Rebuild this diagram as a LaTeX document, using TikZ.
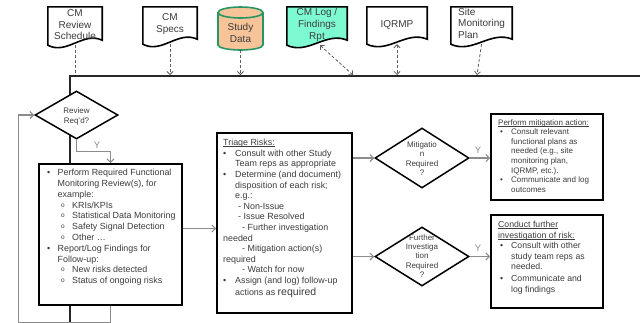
\documentclass[tikz,border=0pt]{standalone}
\usepackage{fontspec}
\setmainfont{Liberation Sans}
\usetikzlibrary{shapes.geometric,arrows.meta,calc}

\definecolor{ink}{RGB}{60,60,60}
\definecolor{wiregray}{RGB}{140,140,140}
\definecolor{dashgray}{RGB}{95,95,95}
\definecolor{peach}{RGB}{246,196,152}
\definecolor{cylgreen}{RGB}{40,150,100}
\definecolor{aqua}{RGB}{125,250,210}

% bullet in a box of given width, sub-bullet "o"
\newcommand{\bul}[1]{\makebox[#1][l]{\textbullet}}
\newcommand{\sbl}{\hspace*{14pt}\makebox[11pt][l]{\raisebox{0.2ex}{\fontsize{6.5}{6.5}\selectfont o}}}
% tight underline just below the baseline
\newcommand{\ul}[1]{\setbox0\hbox{#1}\rlap{\rule[-1.3pt]{\wd0}{0.5pt}}\box0}

% document symbol with a wavy lower edge, drawn around a named node
\newcommand{\docshape}[2]{%
  \draw[docline, fill=#2] (#1.north west) -- (#1.north east)
    -- ($(#1.south east)+(0,-7)$)
    .. controls ($(#1.south west)!0.65!(#1.south east)+(0,-16)$)
            and ($(#1.south west)!0.35!(#1.south east)+(0,8)$)
    .. ($(#1.south west)+(0,-2)$) -- cycle;}

\tikzset{
  frame/.style={draw=black!85, line width=1.6pt, inner sep=0pt},
  stepbox/.style={draw=black, line width=1.8pt, fill=white, inner sep=0pt},
  decision/.style={diamond, draw=black, line width=1.5pt, fill=white, inner sep=0pt},
  docbox/.style={inner sep=0pt},
  docline/.style={draw=black, line width=1.6pt},
  txt/.style={text=ink, inner sep=0pt},
  docfont/.style={font=\fontsize{10}{11.5}\selectfont},
  wire/.style={draw=wiregray, line width=1.1pt, -{Straight Barb[length=3.5pt,width=7pt]}},
  feed/.style={draw=dashgray, line width=0.8pt, dash pattern=on 3pt off 2pt},
  feedtip/.style={-{Straight Barb[length=3pt,width=6pt]}},
  feedboth/.style={{Straight Barb[length=3pt,width=6pt]}-{Straight Barb[length=3pt,width=6pt]}},
  ylab/.style={text=wiregray, inner sep=0pt, font=\fontsize{9.5}{9.5}\selectfont},
}

\begin{document}
\begin{tikzpicture}[x=1pt, y=-1pt]
\useasboundingbox (0,0) rectangle (640,322);
\fill[white] (0,0) rectangle (640,322);

% outer stage frame
\node[frame, minimum width=570.5pt, minimum height=255pt, anchor=north west] (stage) at (69,75) {};

% input / output documents
\node[docbox, minimum width=54pt, minimum height=40pt] (sched) at (75,27) {};
\docshape{sched}{white}
\node[txt, docfont, align=center] (schedtx) at (75,25) {CM\\Review\\Schedule};

\node[docbox, minimum width=54pt, minimum height=39pt] (specs) at (170,26.5) {};
\docshape{specs}{white}
\node[txt, docfont, align=center, font=\fontsize{10}{12.5}\selectfont] (specstx) at (170,24) {CM\\Specs};

\node[docbox, minimum width=45pt, minimum height=43pt] (study) at (240.5,28.5) {};
\draw[cylgreen, line width=1.6pt, fill=peach]
  (218,12.5) -- (218,45) arc[start angle=180, end angle=0, x radius=22.5, y radius=5]
  -- (263,12.5) arc[start angle=0, end angle=-180, x radius=22.5, y radius=5.5] -- cycle;
\draw[cylgreen, line width=1.6pt] (218,12.5) arc[start angle=180, end angle=0, x radius=22.5, y radius=5.5];
\node[txt, docfont, align=center, font=\fontsize{10}{12.5}\selectfont] (studytx) at (240.5,33) {Study\\Data};

\node[docbox, minimum width=60pt, minimum height=40pt] (log) at (317,27) {};
\docshape{log}{aqua}
\node[txt, docfont, align=center, font=\fontsize{10}{12}\selectfont] (logtx) at (317,24.5) {CM Log /\\Findings\\Rpt};

\node[docbox, minimum width=60pt, minimum height=39pt] (iqrmp) at (397,26.5) {};
\docshape{iqrmp}{white}
\node[txt, docfont] (iqrmptx) at (397,24.5) {IQRMP};

\node[docbox, minimum width=61pt, minimum height=39pt] (site) at (481.5,26.5) {};
\docshape{site}{white}
\node[txt, docfont, align=left, anchor=west] (sitetx) at (458,23) {Site\\Monitoring\\Plan};

% feeds into the stage
\draw[feed] ([yshift=2pt]sched.south) -- (sched.south |- stage.north);
\draw[feed, feedtip] ([yshift=2pt]specs.south) -- (specs.south |- stage.north);
\draw[feed, feedtip] (study.south) -- (study.south |- stage.north);
\draw[feed, feedboth] ([xshift=3pt,yshift=2pt]log.south) -- ([xshift=284pt]stage.north west);
\draw[feed, feedboth] ([yshift=2pt]iqrmp.south) -- (iqrmp.south |- stage.north);
\draw[feed, feedtip] ([yshift=2pt]site.south) -- ([xshift=408pt]stage.north west);

% review decision
\node[decision, minimum width=83pt, minimum height=48pt] (rev) at (76.5,115) {};
\node[txt, align=center, font=\fontsize{8}{10}\selectfont] (revtx) at (76.5,116) {Review\\Req’d?};

% functional review step
\node[stepbox, minimum width=143pt, minimum height=141pt] (perf) at (110.5,234.5) {};
\node[txt, anchor=north west, align=left, font=\fontsize{8.9}{10.8}\selectfont] (perftx) at (47,169) {%
\bul{10.5pt}Perform Required Functional\\
\hspace*{10.5pt}Monitoring Review(s), for\\
\hspace*{10.5pt}example:\\
\sbl KRIs/KPIs\\
\sbl Statistical Data Monitoring\\
\sbl Safety Signal Detection\\
\sbl Other …\\
\bul{10.5pt}Report/Log Findings for\\
\hspace*{10.5pt}Follow-up:\\
\sbl New risks detected\\
\sbl Status of ongoing risks};

% triage step
\node[stepbox, minimum width=135pt, minimum height=180pt] (tri) at (284.5,223) {};
\node[txt, anchor=north west, align=left, font=\fontsize{8.9}{10.6}\selectfont] (tritx) at (223,139) {%
\ul{Triage Risks:}\\
\bul{12pt}Consult with other Study\\
\hspace*{12pt}Team reps as appropriate\\
\bul{12pt}Determine (and document)\\
\hspace*{12pt}disposition of each risk;\\
\hspace*{12pt}e.g.:\\
\hspace*{15pt}- Non-Issue\\
\hspace*{15pt}- Issue Resolved\\
\hspace*{19pt}- Further investigation\\
needed\\
\hspace*{19pt}- Mitigation action(s)\\
required\\
\hspace*{19pt}- Watch for now\\
\bul{12pt}Assign (and log) follow-up\\[1.5pt]
\hspace*{12pt}actions as {\fontsize{10.5}{11}\selectfont required}};

% mitigation decision and action
\node[decision, minimum width=94pt, minimum height=60pt] (mit) at (422,158) {};
\node[txt, align=center, font=\fontsize{8}{9.6}\selectfont] (mittx) at (422,158.5) {Mitigatio\\n\\Required\\?};

\node[stepbox, minimum width=112pt, minimum height=86pt] (mitbox) at (547,157) {};
\node[txt, anchor=north west, align=left, font=\fontsize{8}{9.6}\selectfont] (mitboxtx) at (498,119) {%
\ul{Perform mitigation action:}\\
\hspace*{2pt}\bul{11pt}Consult relevant\\
\hspace*{13pt}functional plans as\\
\hspace*{13pt}needed (e.g., site\\
\hspace*{13pt}monitoring plan,\\
\hspace*{13pt}IQRMP, etc.).\\
\hspace*{2pt}\bul{11pt}Communicate and log\\
\hspace*{13pt}outcomes};

% further investigation decision and action
\node[decision, minimum width=94pt, minimum height=59pt] (fur) at (422,256.5) {};
\node[txt, align=center, font=\fontsize{8}{9.4}\selectfont] (furtx) at (422,256) {Further\\Investiga\\tion\\Required\\?};

\node[stepbox, minimum width=112pt, minimum height=93pt] (furbox) at (547,261.5) {};
\node[txt, anchor=north west, align=left, font=\fontsize{8.7}{10.5}\selectfont] (furboxtx) at (498,221) {%
\ul{Conduct further}\\
\ul{investigation of risk:}\\
\hspace*{2pt}\bul{11pt}Consult with other\\
\hspace*{13pt}study team reps as\\
\hspace*{13pt}needed.\\[1.5pt]
\hspace*{2pt}\bul{11pt}Communicate and\\
\hspace*{13pt}log findings};

% flow connectors
\draw[wire] (perf.south) -- ++(0,16.5) -| ([xshift=-16pt]rev.west) -- (rev.west);
\draw[wire] (rev.south) -- ++(0,12) -| (perf.north);
\node[ylab] (ylrev) at (97,145) {Y};
\draw[wire] ([yshift=6pt]perf.east) -- ([yshift=6pt]perf.east -| tri.west);
\draw[wire] (mit.west -| tri.east) -- (mit.west);
\draw[wire] (fur.west -| tri.east) -- (fur.west);
\draw[wire] (mit.east) -- (mit.east -| mitbox.west);
\node[ylab] (ylmit) at (478,150) {Y};
\draw[wire] (fur.east) -- (fur.east -| furbox.west);
\node[ylab] (ylfur) at (478,248) {Y};
\end{tikzpicture}
\end{document}
